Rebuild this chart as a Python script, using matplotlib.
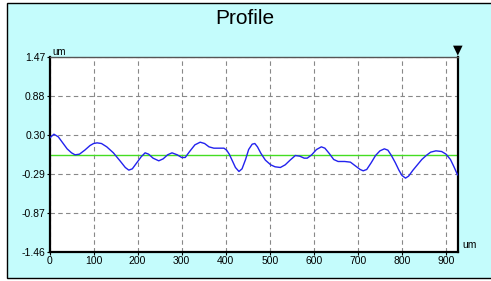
import matplotlib.pyplot as plt
from matplotlib.patches import Rectangle

# profile trace (x in um, height in um)
pos_um = [0, 10, 20, 30, 40, 50, 58, 68, 80, 92, 100, 108, 118, 130, 145, 160,
          172, 180, 188, 198, 208, 217, 225, 235, 248, 258, 268, 278, 290, 300,
          308, 318, 330, 342, 352, 362, 373, 385, 396, 402, 408, 415, 422, 430,
          437, 445, 452, 460, 466, 472, 480, 490, 502, 512, 524, 535, 546, 558,
          568, 578, 585, 595, 606, 617, 625, 635, 645, 655, 670, 683, 695, 705,
          712, 720, 730, 740, 750, 760, 768, 776, 785, 793, 800, 808, 815, 825,
          835, 845, 855, 865, 877, 890, 900, 910, 918, 926]
height_um = [0.25, 0.31, 0.27, 0.18, 0.09, 0.03, 0.00, 0.01, 0.07, 0.14, 0.17,
             0.18, 0.17, 0.12, 0.03, -0.09, -0.19, -0.23, -0.21, -0.12, -0.03,
             0.03, 0.01, -0.05, -0.09, -0.06, 0.00, 0.03, 0.00, -0.04, -0.04,
             0.05, 0.15, 0.19, 0.17, 0.12, 0.10, 0.10, 0.10, 0.07, 0.01, -0.09,
             -0.19, -0.25, -0.21, -0.07, 0.08, 0.16, 0.17, 0.12, 0.02, -0.08,
             -0.15, -0.18, -0.19, -0.15, -0.08, -0.01, -0.02, -0.05, -0.05,
             0.00, 0.08, 0.12, 0.10, 0.02, -0.07, -0.10, -0.10, -0.11, -0.17,
             -0.22, -0.24, -0.22, -0.12, -0.01, 0.06, 0.09, 0.07, -0.01, -0.12,
             -0.23, -0.31, -0.35, -0.32, -0.23, -0.15, -0.07, -0.01, 0.04, 0.06,
             0.05, 0.01, -0.07, -0.18, -0.30]

mean_x = [0, 926]
mean_y = [0.0, 0.0]

x_ticks = [0, 100, 200, 300, 400, 500, 600, 700, 800, 900]
y_ticks = [-1.46, -0.87, -0.29, 0.30, 0.88, 1.47]
y_labels = ["-1.46", "-0.87", "-0.29", "0.30", "0.88", "1.47"]

BG = "#c4fcfc"
plt.rcParams["font.family"] = ["Liberation Sans", "DejaVu Sans"]

fig = plt.figure(figsize=(4.91, 2.81), dpi=100)
fig.patch.set_facecolor("white")

W, H = 491, 281
# cyan panel with black frame (right edge runs off the image)
fig.patches.append(Rectangle((6.5 / W, 1 - 278 / H), 1.0, 275 / H,
                             transform=fig.transFigure, facecolor=BG,
                             edgecolor="black", linewidth=1.0, zorder=-5))

ax = fig.add_axes([49.5 / W, 1 - 252 / H, 408 / W, 195 / H])
ax.set_facecolor("white")

ax.plot(mean_x, mean_y, color="#44dd22", lw=1.0, zorder=2)
ax.plot(pos_um, height_um, color="#2222ee", lw=1.0, zorder=3)

ax.set_xlim(0, 926)
ax.set_ylim(-1.46, 1.47)
ax.set_xticks(x_ticks)
ax.set_yticks(y_ticks)
ax.set_yticklabels(y_labels)
ax.grid(True, color="#888888", linestyle=(0, (4, 3)), linewidth=0.8)
ax.tick_params(labelsize=7.5, length=2, width=0.8, pad=1, colors="black")

for s in ("left", "bottom", "right"):
    ax.spines[s].set_linewidth(1.6)
    ax.spines[s].set_color("black")
ax.spines["top"].set_linewidth(1.0)
ax.spines["top"].set_color("#555555")

fig.text(245 / W, 1 - 18 / H, "Profile", ha="center", va="center", fontsize=15)
fig.text(52 / W, 1 - 57 / H, "um", ha="left", va="bottom", fontsize=7)
fig.text(470 / W, 1 - 245 / H, "um", ha="center", va="center", fontsize=7.5)
fig.text(457.5 / W, 1 - 50 / H, "\u25bc", ha="center", va="center", fontsize=9,
         family="DejaVu Sans")

fig.savefig("out.png", dpi=100, facecolor="white")
